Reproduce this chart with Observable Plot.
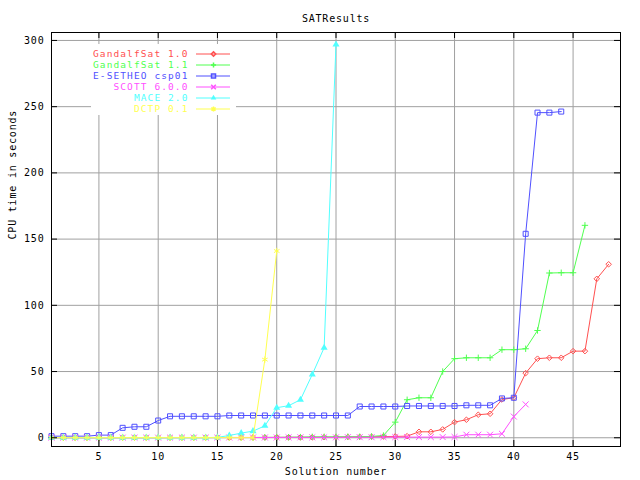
<!DOCTYPE html>
<html><head><meta charset="utf-8">
<script src="https://cdn.jsdelivr.net/npm/d3@7"></script>
<script src="https://cdn.jsdelivr.net/npm/@observablehq/plot@0.6"></script>
<style>
body{margin:0;background:#fff;}
#wrap{position:relative;width:640px;height:480px;overflow:hidden;}
#main svg text{letter-spacing:0.8px;}
#legend svg text{letter-spacing:1.1px;}
#legend{position:absolute;left:91px;top:44px;}
</style></head><body><div id="wrap"><div id="main"></div><div id="legend"></div></div>
<script>
// ---- data (CPU time in seconds, sorted, per solution number) ----
const gandalfSat10 = [0.1,0.1,0.1,0.1,0.1,0.1,0.1,0.1,0.1,0.1, 0.2,0.2,0.2,0.2,0.2,0.2,0.2,0.2,0.2,0.3, 0.3,0.3,0.3,0.4,0.4,0.6,0.7,0.8,0.9,1.0, 1.2,4.5,4.5,6.3,11.8,13.6,17.4,18.1,28.9,30.2, 48.8,59.7,60.4,60.4,65.4,65.4,120,131];
const gandalfSat11 = [0.1,0.1,0.1,0.1,0.1,0.1,0.1,0.1,0.1,0.1, 0.1,0.1,0.1,0.1,0.2,0.2,0.2,0.2,0.3,0.3, 0.4,0.5,0.7,0.7,0.7,0.8,0.8,1.0,1.7,11.8, 28.7,30.2,30.2,50,59.7,60.4,60.4,60.4,66.5,66.5, 67.2,81,124.4,124.6,124.6,160.4];
const eSetheo = [1.2,1.2,1.2,1.2,2,2,7.5,8.3,8.3,13, 16.2,16.2,16.2,16.2,16.2,16.8,16.8,16.8,16.8,16.8, 16.8,16.8,16.8,16.8,16.8,16.8,23.6,23.6,23.6,23.6, 24,24,24,24,24,24.5,24.5,24.5,29.7,30.2, 154,245.5,245.5,246.3];
const scott = [0.1,0.1,0.1,0.1,0.1,0.1,0.1,0.1,0.1,0.1, 0.1,0.1,0.1,0.1,0.1,0.2,0.2,0.2,0.2,0.2, 0.3,0.3,0.3,0.3,0.3,0.4,0.4,0.4,0.5,0.5, 0.5,0.5,0.5,0.5,0.6,2.3,2.3,2.3,3,16, 25.2];
const mace = [0.1,0.1,0.1,0.1,0.1,0.1,0.1,0.1,0.1,0.1, 0.1,0.1,0.1,0.1,0.3,1.7,3.5,5,9,22.7, 24.2,28.7,47.8,68,297];
const dctp = [0.1,0.1,0.1,0.1,0.1,0.1,0.1,0.1,0.1,0.1, 0.1,0.1,0.1,0.1,0.1,0.1,0.1,0.1,59,141];

const seriesNames = ["GandalfSat 1.0","GandalfSat 1.1","E-SETHEO csp01","SCOTT 6.0.0","MACE 2.0","DCTP 0.1"];
const seriesValues = [gandalfSat10, gandalfSat11, eSetheo, scott, mace, dctp];
const seriesColors = ["#ff5050","#50ff50","#5050ff","#ff50ff","#50ffff","#ffff50"];
const seriesSymbols = ["diamond2","plus","square2","times","triangle","asterisk"];
const seriesRadius = [2.5,2.2,3.2,2.8,2.6,3];
const xTicks = [5,10,15,20,25,30,35,40,45];
const yTicks = [0,50,100,150,200,250,300];

const titleText = "SATResults";
const xLabel = "Solution number";
const yLabel = "CPU time in seconds";

const FONT = "'DejaVu Sans Mono', monospace";

const seriesMarks = [];
seriesValues.forEach((vals, i) => {
  const rows = vals.map((v, j) => ({n: j + 1, t: v}));
  seriesMarks.push(Plot.line(rows, {x: "n", y: "t", stroke: seriesColors[i], strokeWidth: 1}));
  const filled = seriesSymbols[i] === "triangle";
  seriesMarks.push(Plot.dot(rows, {x: "n", y: "t", symbol: seriesSymbols[i], r: seriesRadius[i],
    stroke: filled ? "none" : seriesColors[i], fill: filled ? seriesColors[i] : "none", strokeWidth: 1}));
});

const main = Plot.plot({
  width: 640, height: 480,
  marginLeft: 51, marginRight: 20, marginTop: 32, marginBottom: 34,
  style: {fontFamily: FONT, fontSize: "10px", color: "black", background: "white", overflow: "visible"},
  x: {domain: [1, 49]},
  y: {domain: [-6.6, 306]},
  marks: [
    Plot.gridX(xTicks, {stroke: "#a0a0a0", strokeOpacity: 1}),
    Plot.gridY(yTicks, {stroke: "#a0a0a0", strokeOpacity: 1}),
    ...seriesMarks,
    Plot.frame({stroke: "black"}),
    Plot.tickX(xTicks, {x: d => d, insetTop: 408, stroke: "black"}),
    Plot.tickX(xTicks, {x: d => d, insetBottom: 408, stroke: "black"}),
    Plot.tickY(yTicks, {y: d => d, insetRight: 563, stroke: "black"}),
    Plot.tickY(yTicks, {y: d => d, insetLeft: 563, stroke: "black"}),
    Plot.axisX(xTicks, {tickSize: 0, tickPadding: 6, label: null, fill: "black"}),
    Plot.axisY(yTicks, {tickSize: 0, tickPadding: 7, label: null, fill: "black"}),
    Plot.text([titleText], {text: d => d, frameAnchor: "top", dy: -18, fill: "black"}),
    Plot.text([xLabel], {text: d => d, frameAnchor: "bottom", dy: 28, fill: "black"}),
    Plot.text([yLabel], {text: d => d, frameAnchor: "left", dx: -39, rotate: -90, fill: "black"})
  ]
});
document.getElementById("main").appendChild(main);

const legendMarks = [];
seriesNames.forEach((name, i) => {
  const filled = seriesSymbols[i] === "triangle";
  legendMarks.push(Plot.text([name], {y: d => d, text: d => d, frameAnchor: "left", dx: 97, textAnchor: "end", fill: seriesColors[i]}));
  legendMarks.push(Plot.tickY([name], {y: d => d, insetLeft: 105, insetRight: 6, stroke: seriesColors[i], strokeWidth: 1}));
  legendMarks.push(Plot.dot([name], {y: d => d, frameAnchor: "left", dx: 122, symbol: seriesSymbols[i], r: seriesRadius[i] * 0.8,
    stroke: filled ? "none" : seriesColors[i], fill: filled ? seriesColors[i] : "none"}));
});
const legend = Plot.plot({
  width: 145, height: 71, marginTop: 3, marginBottom: 1, marginLeft: 0, marginRight: 0,
  style: {fontFamily: FONT, fontSize: "9.5px", background: "white"},
  y: {type: "band", domain: seriesNames, padding: 0, axis: null},
  marks: legendMarks
});
document.getElementById("legend").appendChild(legend);
</script>
</body></html>
